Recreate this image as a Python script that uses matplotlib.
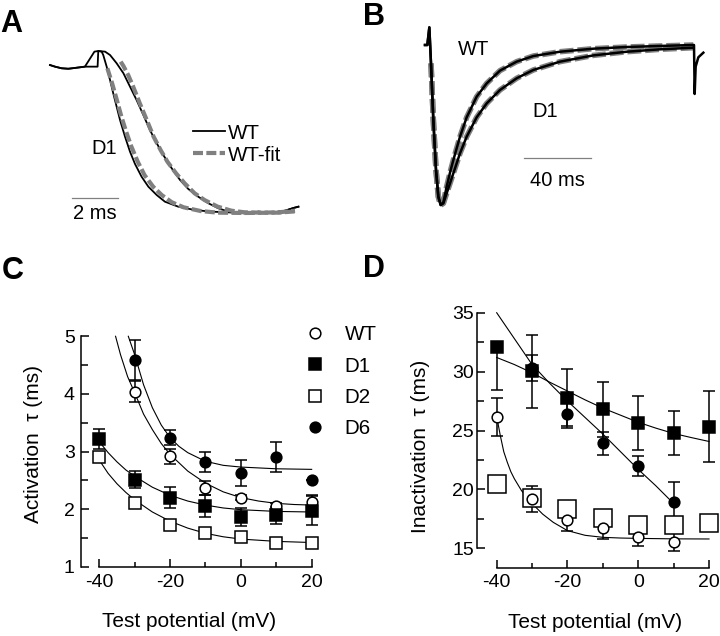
import matplotlib
matplotlib.use('Agg')
import matplotlib.pyplot as plt
from matplotlib.ticker import MultipleLocator

plt.rcParams['font.family'] = ['Liberation Sans', 'DejaVu Sans']
plt.rcParams['axes.unicode_minus'] = False

FIG_W, FIG_H = 720, 636
FIT_GRAY = '#808080'

# ---- panel A: activation phase (time in ms, normalised current) ----
a_pre_t = [0, 0.22, 0.51, 0.81, 1.10, 1.32, 1.54]
a_pre_i = [-0.087, -0.097, -0.107, -0.110, -0.105, -0.101, -0.097]
a_d1_t = [1.96, 2.13, 2.28, 2.35, 2.50, 2.65, 2.79, 2.94, 3.09, 3.31, 3.53,
          3.75, 4.04, 4.34, 4.71, 5.07, 5.66, 6.40, 7.13, 7.87]
a_d1_i = [-0.004, 0.0, -0.004, -0.025, -0.097, -0.180, -0.262, -0.345, -0.428,
          -0.531, -0.624, -0.700, -0.779, -0.841, -0.893, -0.934, -0.965,
          -0.986, -0.996, -1.0]
a_wt_t = [2.10, 2.13, 2.43, 2.65, 2.94, 3.24, 3.53, 3.82, 4.12, 4.41, 4.71,
          5.00, 5.37, 5.74, 6.10, 6.54, 6.99, 7.43, 7.87, 8.31]
a_wt_i = [-0.097, 0.0, -0.004, -0.025, -0.076, -0.138, -0.221, -0.304, -0.397,
          -0.490, -0.572, -0.645, -0.727, -0.800, -0.855, -0.903, -0.944,
          -0.975, -0.996, -1.002]
a_tail_t = [8.60, 8.90, 9.19, 9.49, 9.78, 10.07, 10.37, 10.74, 10.96]
a_tail_i = [-1.006, -1.002, -0.996, -1.0, -1.004, -0.996, -0.990, -0.973, -0.965]
a_wtfit_t = [3.12, 3.24, 3.45, 3.67, 3.96, 4.27, 4.57, 4.88, 5.18, 5.56, 5.94,
             6.38, 6.82, 7.40, 8.01, 8.60, 9.34, 10.07, 10.81]
a_wtfit_i = [-0.066, -0.093, -0.149, -0.221, -0.324, -0.428, -0.531, -0.614,
             -0.686, -0.758, -0.820, -0.882, -0.924, -0.965, -0.990, -1.0,
             -1.002, -1.0, -0.99]
a_d1fit_t = [2.53, 2.74, 2.95, 3.15, 3.36, 3.58, 3.87, 4.17, 4.55, 4.93, 5.38,
             5.90, 6.65, 7.40, 8.60, 10.07, 10.81]
a_d1fit_i = [-0.107, -0.200, -0.304, -0.407, -0.5, -0.589, -0.686, -0.769,
             -0.841, -0.893, -0.938, -0.969, -0.992, -1.002, -1.004, -1.002,
             -0.994]

# ---- panel B: whole current (time in ms, normalised current) ----
b_rise_t = [0, 1.4, 2.6, 3.6, 5.0, 6.6, 8.0, 9.4]
b_rise_i = [0, 0, 0.110, -0.115, -0.469, -0.781, -0.948, -1.0]
b_decay_t = [11.0, 13.0, 15.0, 17.0, 21.0, 25.0, 31.0, 37.0, 45.0, 55.0, 65.0,
             81.0, 101.0, 121.0, 141.0, 161.0]
b_wt_i = [-0.985, -0.885, -0.798, -0.719, -0.573, -0.452, -0.323, -0.240,
          -0.160, -0.104, -0.069, -0.042, -0.023, -0.0125, -0.006, 0.0]
b_d1_i = [-0.990, -0.927, -0.865, -0.802, -0.677, -0.573, -0.452, -0.365,
          -0.281, -0.208, -0.156, -0.104, -0.065, -0.042, -0.027, -0.017]
b_end_t = [161.4, 161.8, 162.4, 164.0, 167.0]
b_end_i = [0.0, -0.306, -0.135, -0.077, -0.048]

# ---- panel C: activation tau (ms) ----
volts = [-40, -30, -20, -10, 0, 10, 20]
c_wt = [4.04, 2.92, 2.37, 2.20, 2.05, 2.13]
c_wt_err = [0.18, 0.13, 0.12, 0.05, 0.05, 0.12]
c_d1 = [3.22, 2.51, 2.20, 2.05, 1.86, 1.89, 1.97]
c_d1_err = [0.17, 0.15, 0.18, 0.19, 0.155, 0.15, 0.25]
c_d2 = [2.90, 2.10, 1.72, 1.58, 1.51, 1.42, 1.42]
c_d6 = [4.59, 3.24, 2.82, 2.63, 2.90, 2.51]
c_d6_err = [0.35, 0.13, 0.18, 0.23, 0.26, 0.0]
c_labels = ['WT', 'D1', 'D2', 'D6']

c_fit_wt_x = [-35.4, -34, -32, -30, -27.5, -25, -22.5, -20, -15, -10, -5, 0, 5, 10, 15, 20]
c_fit_wt_y = [5.0, 4.68, 4.30, 4.02, 3.65, 3.38, 3.14, 2.95, 2.66, 2.45, 2.30,
              2.20, 2.14, 2.10, 2.08, 2.07]
c_fit_d6_x = [-31.8, -30, -27.5, -25, -22.5, -20, -17.5, -15, -10, -5, 0, 10, 20]
c_fit_d6_y = [5.0, 4.68, 4.16, 3.76, 3.46, 3.24, 3.09, 2.98, 2.83, 2.76, 2.73,
              2.70, 2.69]
c_fit_x = [-40, -37.5, -35, -32.5, -30, -25, -20, -15, -10, -5, 0, 10, 20]
c_fit_d1_y = [3.17, 2.98, 2.82, 2.68, 2.57, 2.38, 2.24, 2.14, 2.07, 2.02, 1.99,
              1.96, 1.95]
c_fit_d2_y = [2.85, 2.62, 2.44, 2.29, 2.16, 1.95, 1.79, 1.67, 1.58, 1.52, 1.48,
              1.44, 1.42]

# ---- panel D: inactivation tau (ms) ----
d_wt = [26.15, 19.21, 17.39, 16.69, 15.98, 15.56]
d_wt_err = [1.6, 1.1, 0.9, 0.9, 0.8, 0.75]
d_d1 = [32.08, 30.03, 27.78, 26.80, 25.67, 24.78, 25.34]
d_d1_err_lo = [3.6, 3.1, 2.4, 2.33, 2.3, 1.9, 3.0]
d_d1_err_hi = [0.0, 3.1, 2.4, 2.33, 2.3, 1.9, 3.0]
d_d2 = [20.42, 19.27, 18.37, 17.53, 16.97, 16.97, 17.16]
d_d6 = [30.31, 26.43, 23.90, 22.02, 18.93]
d_d6_err = [1.1, 1.18, 1.0, 0.85, 1.7]

d_fit_wt_x = [-40, -39, -38, -37, -36, -35, -33, -30, -27, -24, -20, -15, -10, -5, 0, 10, 20]
d_fit_wt_y = [26.2, 24.6, 23.2, 22.3, 21.5, 20.9, 19.9, 18.8, 17.9, 17.2, 16.5,
              16.1, 15.93, 15.87, 15.84, 15.8, 15.79]
d_fit_d1_x = [-40, -35, -30, -25, -20, -15, -10, -5, 0, 5, 10, 15, 20]
d_fit_d1_y = [31.2, 30.6, 29.9, 29.1, 28.35, 27.6, 26.9, 26.3, 25.7, 25.2,
              24.75, 24.4, 24.07]
d_fit_d6_x = [-40, -35, -30, -25, -20, -15, -10, -5, 0, 5, 10]
d_fit_d6_y = [35.0, 32.8, 30.6, 29.0, 27.5, 26.1, 24.7, 23.2, 21.7, 20.3, 18.8]


def px_axes(fig, x0, x1, top, bottom):
    # axes rectangle given in pixel coordinates (origin top-left)
    return fig.add_axes([x0 / FIG_W, 1 - bottom / FIG_H,
                         (x1 - x0) / FIG_W, (bottom - top) / FIG_H])


def panel_a(ax):
    ax.plot(a_pre_t + a_d1_t + a_tail_t, a_pre_i + a_d1_i + a_tail_i,
            color='black', lw=1.3, zorder=2)
    wt_line, = ax.plot(a_pre_t + a_wt_t + a_tail_t, a_pre_i + a_wt_i + a_tail_i,
                       color='black', lw=1.3, zorder=2)
    fit_line, = ax.plot(a_wtfit_t, a_wtfit_i, color=FIT_GRAY, lw=3,
                        dashes=(2.4, 0.8), zorder=3)
    ax.plot(a_d1fit_t, a_d1fit_i, color=FIT_GRAY, lw=3, dashes=(2.4, 0.8), zorder=3)
    ax.plot([0.985, 2.985], [-0.909, -0.909], color=FIT_GRAY, lw=0.9)
    ax.text(1.99, -1.010, '2 ms', ha='center', va='center', fontsize=14.5)
    ax.text(2.38, -0.603, 'D1', ha='center', va='center', fontsize=14.5)
    ax.legend([wt_line, fit_line], ['WT', 'WT-fit'], loc='upper left',
              bbox_to_anchor=(0.545, 0.56), frameon=False, fontsize=14.8,
              handlelength=1.6, handletextpad=0.1, borderpad=0,
              borderaxespad=0, labelspacing=0.15)
    ax.set_xlim(-0.441, 11.912)
    ax.set_ylim(-1.1095, 0.0682)
    ax.axis('off')


def panel_b(ax):
    fit_t = b_rise_t[3:] + b_decay_t
    ax.plot(fit_t, b_rise_i[3:] + b_wt_i, color=FIT_GRAY, lw=4,
            dashes=(2.5, 0.7), zorder=1)
    ax.plot(fit_t, b_rise_i[3:] + b_d1_i, color=FIT_GRAY, lw=4,
            dashes=(2.5, 0.7), zorder=1)
    ax.plot(b_rise_t + b_decay_t + b_end_t, b_rise_i + b_wt_i + b_end_i,
            color='black', lw=1.8, zorder=2)
    ax.plot(b_rise_t + b_decay_t, b_rise_i + b_d1_i, color='black', lw=1.8, zorder=2)
    ax.plot([59.4, 99.4], [-0.708, -0.708], color=FIT_GRAY, lw=0.9)
    ax.text(79.4, -0.844, '40 ms', ha='center', va='center', fontsize=14.5)
    ax.text(29.0, -0.031, 'WT', ha='center', va='center', fontsize=14.5)
    ax.text(72.0, -0.417, 'D1', ha='center', va='center', fontsize=14.5)
    ax.set_xlim(-15, 177)
    ax.set_ylim(-1.125, 0.1875)
    ax.axis('off')


def style_axes(ax, ylo, yhi, ymajor, xpad, ypad):
    for side in ('top', 'right'):
        ax.spines[side].set_visible(False)
    for side in ('left', 'bottom'):
        ax.spines[side].set_linewidth(1.1)
    ax.spines['left'].set_bounds(ylo, yhi)
    ax.spines['bottom'].set_bounds(-40, 20)
    ax.xaxis.set_major_locator(MultipleLocator(20))
    ax.xaxis.set_minor_locator(MultipleLocator(10))
    ax.yaxis.set_major_locator(MultipleLocator(ymajor))
    ax.yaxis.set_minor_locator(MultipleLocator(ymajor / 2))
    ax.tick_params(which='both', direction='in', width=1.1, labelsize=14)
    ax.tick_params(axis='x', which='major', length=6, pad=xpad)
    ax.tick_params(axis='x', which='minor', length=3.3)
    ax.tick_params(axis='y', which='major', length=6, pad=ypad)
    ax.tick_params(axis='y', which='minor', length=5)


def errbar(ax, x, y, err, marker, filled, ms):
    eb = ax.errorbar(x, y, yerr=err, fmt=marker, ms=ms, mew=1.1,
                     mfc='black' if filled else 'white', mec='black',
                     ecolor='black', elinewidth=1.1, capsize=4, capthick=1.1,
                     clip_on=False, zorder=3)
    return eb[0]


def panel_c(ax):
    for fx, fy in ((c_fit_wt_x, c_fit_wt_y), (c_fit_d6_x, c_fit_d6_y),
                   (c_fit_x, c_fit_d1_y), (c_fit_x, c_fit_d2_y)):
        ax.plot(fx, fy, color='black', lw=0.8, zorder=1)
    h_wt = errbar(ax, volts[1:], c_wt, c_wt_err, 'o', False, 7.7)
    h_d1 = errbar(ax, volts, c_d1, c_d1_err, 's', True, 8.4)
    h_d2 = errbar(ax, volts, c_d2, None, 's', False, 8.4)
    h_d6 = errbar(ax, volts[1:], c_d6, c_d6_err, 'o', True, 7.7)
    ax.legend([h_wt, h_d1, h_d2, h_d6], c_labels, loc='upper left',
              bbox_to_anchor=(0.955, 1.035), frameon=False, fontsize=14.8,
              handlelength=1.0, handletextpad=0.95, borderpad=0,
              borderaxespad=0, labelspacing=0.6)
    ax.set_xlim(-45.25, 21)
    ax.set_ylim(0.99, 5.05)
    style_axes(ax, 1, 5, 1, 5, 4.3)
    ax.set_xlabel('Test potential (mV)', fontsize=15, va='center')
    ax.xaxis.set_label_coords(0.46, -0.2326)
    ax.set_ylabel('Activation  \u03c4 (ms)', fontsize=15, va='center')
    ax.yaxis.set_label_coords(-0.203, 0.527)


def panel_d(ax):
    for fx, fy in ((d_fit_wt_x, d_fit_wt_y), (d_fit_d1_x, d_fit_d1_y),
                   (d_fit_d6_x, d_fit_d6_y)):
        ax.plot(fx, fy, color='black', lw=0.8, zorder=1)
    errbar(ax, volts, d_d2, None, 's', False, 13.5)
    errbar(ax, volts, d_d1, [d_d1_err_lo, d_d1_err_hi], 's', True, 8.4)
    errbar(ax, volts[1:6], d_d6, d_d6_err, 'o', True, 7.7)
    errbar(ax, volts[:6], d_wt, d_wt_err, 'o', False, 7.7)
    ax.set_xlim(-45.48, 21.5)
    ax.set_ylim(13.3, 35.3)
    style_axes(ax, 15, 35, 5, 4, 2.5)
    ax.set_xlabel('Test potential (mV)', fontsize=15, va='center')
    ax.xaxis.set_label_coords(0.4966, -0.2111)
    ax.set_ylabel('Inactivation  \u03c4 (ms)', fontsize=15, va='center')
    ax.yaxis.set_label_coords(-0.2376, 0.472)


def main():
    fig = plt.figure(figsize=(FIG_W / 100, FIG_H / 100), dpi=100)
    panel_a(px_axes(fig, 40, 320, 40, 230))
    panel_b(px_axes(fig, 400, 720, 15, 225))
    panel_c(px_axes(fig, 80.7, 315.2, 333.4, 567.3))
    panel_d(px_axes(fig, 477.3, 714.3, 309.2, 568.3))

    for letter, x, base in (('A', 0, 31.7), ('B', 363, 25),
                            ('C', 1.7, 279.3), ('D', 363, 276.7)):
        fig.text(x / FIG_W, 1 - base / FIG_H, letter, fontsize=22,
                 fontweight='bold', va='baseline', ha='left')

    fig.savefig('out.png', dpi=100)


if __name__ == '__main__':
    main()
